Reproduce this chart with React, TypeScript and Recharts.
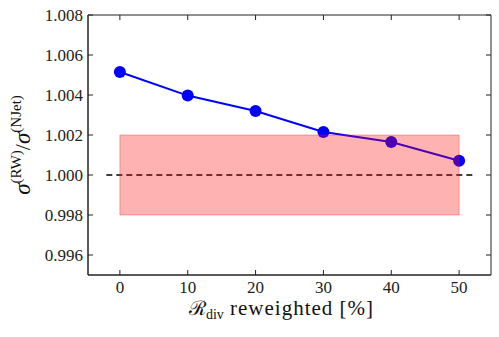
import React from "react";
import {
  ComposedChart,
  Line,
  XAxis,
  YAxis,
  ReferenceArea,
  ReferenceLine,
} from "recharts";

const reweightedPercent = [0, 10, 20, 30, 40, 50];
const crossSectionRatio = [1.00515, 1.00397, 1.0032, 1.00215, 1.00165, 1.00071];
const xTicks = [0, 10, 20, 30, 40, 50];
const yTicks = [0.996, 0.998, 1.0, 1.002, 1.004, 1.006, 1.008];
const xDomain = [-4.7, 54.7];
const yDomain = [0.995, 1.008];
const bandRange = [0.998, 1.002];
const bandSpan = [0, 50];
const referenceRatio = 1.0;
const referenceSpan = [-2, 52];

const data = reweightedPercent.map((x, i) => ({ x, ratio: crossSectionRatio[i] }));

const FONT = "'Liberation Serif', serif";
const INK = "#222";
const W = 499;
const H = 337;
const MARGIN = { top: 15, right: 8, bottom: 0, left: 0 };
const X_AXIS_H = 62;
const Y_AXIS_W = 88;
const TICK_LEN = 5;

// axis lines in pixels, from the fixed layout above
const plotTop = MARGIN.top;
const plotBottom = H - MARGIN.bottom - X_AXIS_H;
const plotLeft = MARGIN.left + Y_AXIS_W;
const plotRight = W - MARGIN.right;

function XTick(props: any) {
  const { x, payload } = props;
  return (
    <g>
      <line x1={x} x2={x} y1={plotBottom} y2={plotBottom - TICK_LEN} stroke={INK} />
      <line x1={x} x2={x} y1={plotTop} y2={plotTop + TICK_LEN} stroke={INK} />
      <text x={x} y={plotBottom + 18} textAnchor="middle" fontFamily={FONT} fontSize={17} fill={INK}>
        {payload.value}
      </text>
    </g>
  );
}

function YTick(props: any) {
  const { y, payload } = props;
  return (
    <g>
      <line x1={plotLeft} x2={plotLeft + TICK_LEN} y1={y} y2={y} stroke={INK} />
      <line x1={plotRight} x2={plotRight - TICK_LEN} y1={y} y2={y} stroke={INK} />
      <text x={plotLeft - 5} y={y} dy="0.34em" textAnchor="end" fontFamily={FONT} fontSize={17} fill={INK}>
        {Number(payload.value).toFixed(3)}
      </text>
    </g>
  );
}

function YLabel(props: any) {
  const vb = props.viewBox || {};
  const cy = vb.y + vb.height / 2;
  const x = 30;
  return (
    <text
      x={x}
      y={cy}
      transform={`rotate(-90 ${x} ${cy})`}
      textAnchor="middle"
      fontFamily={FONT}
      fill="#111"
    >
      <tspan fontSize={23} fontStyle="italic">σ</tspan>
      <tspan fontSize={15} dy={-9}>(RW)</tspan>
      <tspan fontSize={22} dy={9}>/</tspan>
      <tspan fontSize={23} fontStyle="italic">σ</tspan>
      <tspan fontSize={15} dy={-9}>(NJet)</tspan>
    </text>
  );
}

function XLabel(props: any) {
  const vb = props.viewBox || {};
  const cx = vb.x + vb.width / 2 - 8;
  return (
    <text x={cx} y={plotBottom + 40} textAnchor="middle" fontFamily={FONT} fill="#111">
      <tspan fontSize={20}>ℛ</tspan>
      <tspan fontSize={14} dy={4}>div</tspan>
      <tspan fontSize={21} dy={-4} letterSpacing={1}> reweighted [%]</tspan>
    </text>
  );
}

export default function App() {
  return (
    <div style={{ position: "absolute", left: 0, top: 0, background: "#fff" }}>
      <ComposedChart width={W} height={H} data={data} margin={MARGIN}>
        <XAxis
          xAxisId="main"
          dataKey="x"
          type="number"
          domain={xDomain}
          ticks={xTicks}
          allowDataOverflow
          height={X_AXIS_H}
          stroke={INK}
          tickLine={false}
          tickSize={0}
          tick={<XTick />}
          label={<XLabel />}
        />
        <YAxis
          yAxisId="main"
          type="number"
          domain={yDomain}
          ticks={yTicks}
          allowDataOverflow
          width={Y_AXIS_W}
          stroke={INK}
          tickLine={false}
          tickSize={0}
          tick={<YTick />}
          label={<YLabel />}
        />
        <ReferenceLine
          xAxisId="main"
          yAxisId="main"
          segment={[
            { x: referenceSpan[0], y: referenceRatio },
            { x: referenceSpan[1], y: referenceRatio },
          ]}
          stroke="#000"
          strokeWidth={1.6}
          strokeDasharray="6 4"
        />
        <Line
          xAxisId="main"
          yAxisId="main"
          dataKey="ratio"
          type="linear"
          stroke="#0000ff"
          strokeWidth={2}
          dot={{ r: 6, fill: "#0000ff", stroke: "none" }}
          isAnimationActive={false}
        />
        {/* the band sits above the line, as in the original */}
        <ReferenceArea
          xAxisId="main"
          yAxisId="main"
          x1={bandSpan[0]}
          x2={bandSpan[1]}
          y1={bandRange[0]}
          y2={bandRange[1]}
          fill="#ff0000"
          fillOpacity={0.3}
          stroke="#ff0000"
          strokeOpacity={0.3}
          ifOverflow="visible"
          {...({ zIndex: 2000 } as any)}
        />
        {/* frame on the top and right sides */}
        <ReferenceArea
          xAxisId="main"
          yAxisId="main"
          x1={xDomain[0]}
          x2={xDomain[1]}
          y1={yDomain[0]}
          y2={yDomain[1]}
          fill="none"
          stroke={INK}
          ifOverflow="visible"
        />
      </ComposedChart>
    </div>
  );
}
